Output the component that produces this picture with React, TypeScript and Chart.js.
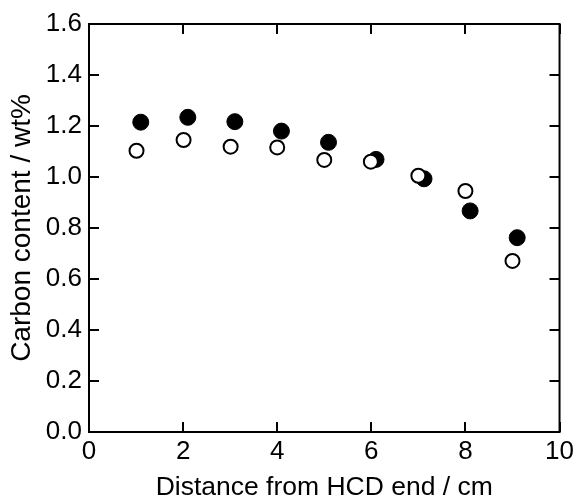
import React, { useEffect, useRef } from "react";
import { Chart, registerables } from "chart.js";

Chart.register(...registerables);

const filledX = [1.1, 2.1, 3.1, 4.09, 5.09, 6.1, 7.12, 8.1, 9.1];
const filledY = [1.215, 1.234, 1.217, 1.18, 1.136, 1.069, 0.993, 0.867, 0.762];
const openX = [1.01, 2.01, 3.01, 4.0, 5.0, 5.99, 7.0, 8.0, 9.0];
const openY = [1.103, 1.145, 1.119, 1.116, 1.067, 1.06, 1.005, 0.945, 0.671];

const xTitle = "Distance from HCD end / cm";
const yTitle = "Carbon content / wt%";
const FONT = "'Liberation Sans', Arial, Helvetica, sans-serif";

const framePlugin = {
  id: "frame",
  afterDraw(chart: any) {
    const { ctx, chartArea } = chart;
    const { left, right, top, bottom } = chartArea;
    const xs = chart.scales.x;
    const ys = chart.scales.y;
    const TL = 10;
    ctx.save();
    ctx.strokeStyle = "#000";
    ctx.lineWidth = 2;
    ctx.strokeRect(left, top, right - left, bottom - top);
    ctx.beginPath();
    xs.ticks.forEach((t: any) => {
      const px = Math.round(xs.getPixelForValue(t.value));
      ctx.moveTo(px, bottom);
      ctx.lineTo(px, bottom - TL);
      ctx.moveTo(px, top);
      ctx.lineTo(px, top + TL);
    });
    ys.ticks.forEach((t: any) => {
      const py = Math.round(ys.getPixelForValue(t.value));
      ctx.moveTo(left, py);
      ctx.lineTo(left + TL, py);
      ctx.moveTo(right, py);
      ctx.lineTo(right - TL, py);
    });
    ctx.stroke();
    ctx.restore();
  },
};

export default function App() {
  const ref = useRef<HTMLCanvasElement>(null);
  useEffect(() => {
    if (!ref.current) return;
    const chart = new Chart(ref.current, {
      type: "scatter",
      data: {
        datasets: [
          {
            label: "open",
            data: openX.map((x, i) => ({ x, y: openY[i] })),
            pointRadius: 7,
            pointHoverRadius: 7,
            pointBackgroundColor: "#fff",
            pointBorderColor: "#000",
            pointBorderWidth: 2,
          },
          {
            label: "filled",
            data: filledX.map((x, i) => ({ x, y: filledY[i] })),
            pointRadius: 8,
            pointHoverRadius: 8,
            pointBackgroundColor: "#000",
            pointBorderColor: "#000",
            pointBorderWidth: 1,
          },
        ],
      },
      options: {
        responsive: false,
        animation: false,
        layout: { padding: { left: 0, right: 16, top: 24, bottom: 0 } },
        plugins: { legend: { display: false }, tooltip: { enabled: false } },
        scales: {
          x: {
            type: "linear",
            min: 0,
            max: 10,
            grid: { display: false, drawTicks: false },
            border: { display: false },
            ticks: {
              stepSize: 2,
              padding: 4,
              color: "#000",
              font: { family: FONT, size: 26 },
              maxRotation: 0,
            },
            title: {
              display: true,
              text: xTitle,
              color: "#000",
              font: { family: FONT, size: 26.5 },
              padding: { top: 0, bottom: -4 },
            },
            afterFit(scale: any) {
              scale.height = 68;
            },
          },
          y: {
            type: "linear",
            min: 0,
            max: 1.6,
            grid: { display: false, drawTicks: false },
            border: { display: false },
            ticks: {
              stepSize: 0.2,
              padding: 7,
              color: "#000",
              font: { family: FONT, size: 26 },
              callback: (v: any) => Number(v).toFixed(1),
            },
            title: {
              display: true,
              text: yTitle,
              color: "#000",
              font: { family: FONT, size: 28 },
              padding: { top: 5, bottom: 0 },
            },
            afterFit(scale: any) {
              scale.width = 89;
            },
          },
        },
      },
      plugins: [framePlugin],
    });
    return () => chart.destroy();
  }, []);
  return (
    <div style={{ position: "absolute", left: 0, top: 0, width: 578, height: 500, background: "#fff" }}>
      <canvas ref={ref} width={578} height={500} />
    </div>
  );
}
